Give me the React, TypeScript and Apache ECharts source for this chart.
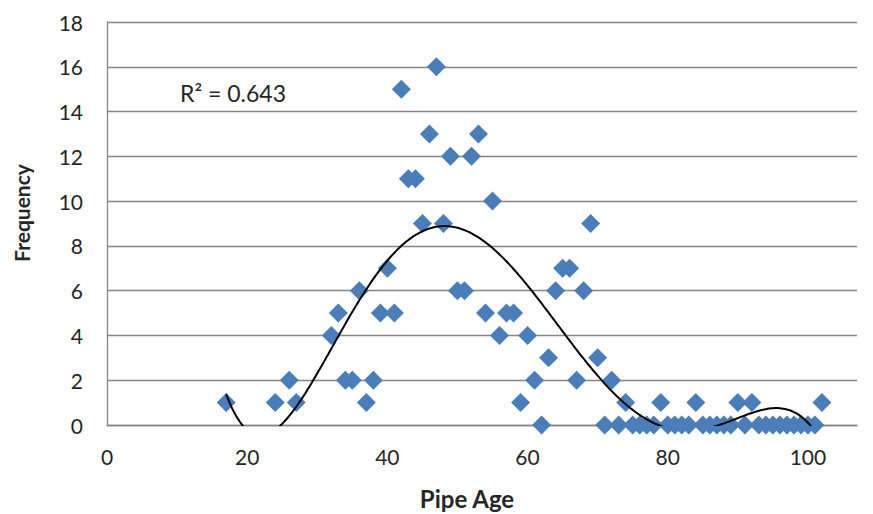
import React, { useEffect, useRef } from "react";
import * as echarts from "echarts";

const ages = [17, 24, 26, 27, 32, 33, 34, 35, 36, 37, 38, 39, 40, 41, 42, 43, 44, 45, 46, 47, 48, 49, 50, 51, 52, 53, 54, 55, 56, 57, 58, 59, 60, 61, 62, 63, 64, 65, 66, 67, 68, 69, 70, 71, 72, 73, 74, 75, 76, 77, 78, 79, 80, 81, 82, 83, 84, 85, 86, 87, 88, 89, 90, 91, 92, 93, 94, 95, 96, 97, 98, 99, 100, 101, 102];
const frequencies = [1, 1, 2, 1, 4, 5, 2, 2, 6, 1, 2, 5, 7, 5, 15, 11, 11, 9, 13, 16, 9, 12, 6, 6, 12, 13, 5, 10, 4, 5, 5, 1, 4, 2, 0, 3, 6, 7, 7, 2, 6, 9, 3, 0, 2, 0, 1, 0, 0, 0, 0, 1, 0, 0, 0, 0, 1, 0, 0, 0, 0, 0, 1, 0, 1, 0, 0, 0, 0, 0, 0, 0, 0, 0, 1];
const xTicks = [0, 20, 40, 60, 80, 100];
const yTicks = [0, 2, 4, 6, 8, 10, 12, 14, 16, 18];
const rSquaredLabel = "R² = 0.643";
const trendOrder = 5;

function polyFit(xs: number[], ys: number[], degree: number, c: number, s: number) {
  const n = degree + 1;
  const A: number[][] = Array.from({ length: n }, () => new Array(n + 1).fill(0));
  for (let k = 0; k < xs.length; k++) {
    const t = (xs[k] - c) / s;
    const pw: number[] = [];
    for (let i = 0; i < 2 * n; i++) pw.push(Math.pow(t, i));
    for (let i = 0; i < n; i++) {
      for (let j = 0; j < n; j++) A[i][j] += pw[i + j];
      A[i][n] += pw[i] * ys[k];
    }
  }
  for (let i = 0; i < n; i++) {
    let p = i;
    for (let r = i + 1; r < n; r++) if (Math.abs(A[r][i]) > Math.abs(A[p][i])) p = r;
    [A[i], A[p]] = [A[p], A[i]];
    for (let r = 0; r < n; r++) {
      if (r === i) continue;
      const f = A[r][i] / A[i][i];
      for (let j = i; j <= n; j++) A[r][j] -= f * A[i][j];
    }
  }
  const coef = A.map((row, i) => row[n] / row[i]);
  return (x: number) => {
    const t = (x - c) / s;
    let v = 0;
    for (let i = n - 1; i >= 0; i--) v = v * t + coef[i];
    return v;
  };
}

export default function App() {
  const ref = useRef<HTMLDivElement>(null);
  useEffect(() => {
    if (!ref.current) return;
    const chart = echarts.init(ref.current, null, { renderer: "svg" });
    const fit = polyFit(ages, frequencies, trendOrder, 60, 42);
    const xmin = ages[0];
    const xmax = ages[ages.length - 1];
    const curve: number[][] = [];
    for (let x = xmin; x <= xmax + 1e-9; x += 0.25) curve.push([x, fit(x)]);
    const font = "Lato, 'Open Sans', sans-serif";
    chart.setOption({
      animation: false,
      grid: { left: 107, right: 16, top: 22, bottom: 89, containLabel: false },
      xAxis: {
        type: "value",
        min: 0,
        max: 107,
        interval: 20,
        axisLine: { show: true, onZero: false, lineStyle: { color: "#868686", width: 1.3 } },
        axisTick: { show: false },
        splitLine: { show: false },
        axisLabel: {
          margin: 21,
          fontSize: 21,
          color: "#262626",
          fontFamily: font,
          formatter: (v: number) => (xTicks.includes(v) ? String(v) : ""),
        },
      },
      yAxis: {
        type: "value",
        min: 0,
        max: 18,
        interval: 2,
        axisLine: { show: true, lineStyle: { color: "#868686", width: 1.3 } },
        axisTick: { show: false },
        splitLine: { show: true, lineStyle: { color: "#868686", width: 1.3 } },
        axisLabel: {
          margin: 24,
          fontSize: 21,
          color: "#262626",
          fontFamily: font,
          formatter: (v: number) => (yTicks.includes(v) ? String(v) : ""),
        },
      },
      graphic: [
        {
          type: "text",
          left: 180,
          top: 81,
          style: { text: rSquaredLabel, fontSize: 23, fill: "#262626", fontFamily: font },
        },
        {
          type: "text",
          x: 467,
          y: 498,
          style: { text: "Pipe Age", fontSize: 24, fontWeight: "bold", fill: "#262626", fontFamily: font, align: "center", verticalAlign: "middle" },
        },
        {
          type: "text",
          x: 21,
          y: 213,
          rotation: Math.PI / 2,
          style: { text: "Frequency", fontSize: 21, fontWeight: "bold", fill: "#262626", fontFamily: font, align: "center", verticalAlign: "middle" },
        },
      ],
      series: [
        {
          type: "scatter",
          data: ages.map((a, i) => [a, frequencies[i]]),
          symbol: "diamond",
          symbolSize: [19, 19],
          itemStyle: { color: "#4A7EBB", opacity: 1 },
          z: 2,
        },
        {
          type: "line",
          data: curve,
          showSymbol: false,
          clip: true,
          lineStyle: { color: "#000", width: 2 },
          z: 3,
        },
      ],
    });
    return () => chart.dispose();
  }, []);
  return <div ref={ref} style={{ position: "absolute", left: 0, top: 0, width: 873, height: 514 }} />;
}
